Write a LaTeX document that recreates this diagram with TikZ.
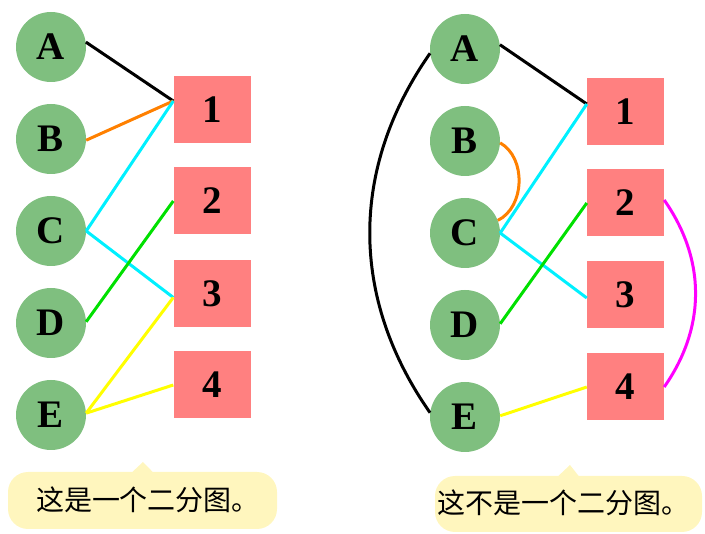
\documentclass[tikz,border=0pt]{standalone}
\usepackage{fontspec}
\setmainfont{Liberation Serif}
\newfontfamily\cjk{Noto Sans CJK SC}
\definecolor{vgreen}{HTML}{7FBF7F}
\definecolor{vred}{HTML}{FF8080}
\definecolor{bub}{HTML}{FFF6BE}
\definecolor{eorange}{HTML}{FF8000}
\definecolor{ecyan}{HTML}{00F0FF}
\definecolor{egreen}{HTML}{00E000}
\definecolor{eyellow}{HTML}{FFFF00}
\definecolor{emag}{HTML}{FF00FF}
\begin{document}
\begin{tikzpicture}[x=1pt,y=-1pt,
  vtx/.style={circle,fill=vgreen,minimum size=70pt,inner sep=0pt,font=\fontsize{39}{41}\selectfont\bfseries},
  bx/.style={rectangle,fill=vred,minimum width=77pt,minimum height=67pt,inner sep=0pt,font=\fontsize{39}{41}\selectfont\bfseries},
  edge/.style={line width=3pt},
  bubble/.style={rectangle,rounded corners=20pt,fill=bub,inner sep=0pt},
  btext/.style={font=\cjk\fontsize{28}{30}\selectfont}]
\useasboundingbox (0,0) rectangle (705,534);
% left graph
\node[vtx] (lA) at (51,47) {A};
\node[vtx] (lB) at (51,139) {B};
\node[vtx] (lC) at (51,231) {C};
\node[vtx] (lD) at (51,323) {D};
\node[vtx] (lE) at (51,415) {E};
\node[bx] (l1) at (212,109.5) {1};
\node[bx] (l2) at (212,201) {2};
\node[bx] (l3) at (212,293.5) {3};
\node[bx] (l4) at (212,385) {4};
\draw[edge,black] (lA.8) -- ([yshift=8.5pt]l1.west);
\draw[edge,eorange] (lB.358) -- ([yshift=8.5pt]l1.west);
\draw[edge,ecyan] (lC.east) -- ([yshift=8.5pt]l1.west);
\draw[edge,ecyan] (lC.east) -- ([yshift=-4pt]l3.west);
\draw[edge,egreen] (lD.2) -- (l2.west);
\draw[edge,eyellow] (lE.3) -- ([yshift=-4pt]l3.west);
\draw[edge,eyellow] (lE.3) -- (l4.west);
% right graph
\node[vtx] (rA) at (465,49) {A};
\node[vtx] (rB) at (465,141) {B};
\node[vtx] (rC) at (465,233) {C};
\node[vtx] (rD) at (465,325) {D};
\node[vtx] (rE) at (465,417) {E};
\node[bx] (r1) at (625.5,111.5) {1};
\node[bx] (r2) at (625.5,203) {2};
\node[bx] (r3) at (625.5,295) {3};
\node[bx] (r4) at (625.5,387) {4};
\draw[edge,black] (rA.7) -- ([yshift=7.5pt]r1.west);
\draw[edge,black] (rA.187) to[bend right=35] (rE.173);
\draw[edge,eorange] (rB.357) to[bend left=62] (rC.21);
\draw[edge,ecyan] (rC.east) -- ([yshift=7.5pt]r1.west);
\draw[edge,ecyan] (rC.east) -- ([yshift=-3pt]r3.west);
\draw[edge,egreen] (rD.2) -- (r2.west);
\draw[edge,eyellow] (rE.2) -- (r4.west);
\draw[edge,emag] ([yshift=3pt]r2.east) to[bend left=35] (r4.east);
% bubbles
\node[bubble,minimum width=269pt,minimum height=57pt] (bl) at (142.5,500.5) {};
\fill[bub] ([xshift=-10pt]bl.north) -- (143,462) -- ([xshift=10pt]bl.north) -- cycle;
\node[btext] (tl) at (148,500) {这是一个二分图。};
\node[bubble,minimum width=267pt,minimum height=56pt] (br) at (568.5,504) {};
\fill[bub] ([xshift=-10pt]br.north) -- (570,465) -- ([xshift=10pt]br.north) -- cycle;
\node[btext] (tr) at (563,503) {这不是一个二分图。};
\end{tikzpicture}
\end{document}
